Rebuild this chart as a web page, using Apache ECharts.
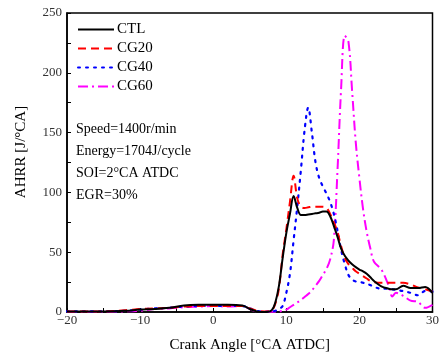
<!DOCTYPE html>
<html>
<head>
<meta charset="utf-8">
<script src="https://cdn.jsdelivr.net/npm/echarts@6/dist/echarts.min.js"></script>
<style>html,body{margin:0;padding:0;background:#fff}#c{width:442px;height:358px}</style>
</head>
<body>
<div id="c"></div>
<script>
var angle = [-20,-15,-12,-10,-8,-6,-4,-2,0,2,4,5,6,7,8,8.5,9,9.5,10,10.5,11,11.5,12,12.5,13,13.5,14,14.5,15,15.5,16,16.5,17,17.5,18,18.5,19,19.5,20,20.5,21,21.5,22,23,24,24.5,25,26,27,28,29,30];
var ctl  = [0.5,0.5,1,2,2.5,3.5,5.5,6,6,6,5.5,2.5,0.5,0,1.5,8,22,45,66,82,97,87,81,81,81.5,82,82.5,83,84,84,80,72,63,53,47,43,40,37.5,35.5,34,32,29,26,21.5,19.5,19,19,22,20,20,21,16];
var cg20 = [0.5,0.5,1.5,2.5,3,3.5,4.5,5,5,5,5,3,1,0.5,1.5,7,20,48,69,92,114,95,88,87,87.5,88,88,88,88,87,82,75,67,55,45,40,37,34,32,30,28,26,25,24.5,24.5,24.5,24.5,24.5,23,20.5,19,17];
var cg40 = [0.5,0.5,1,2,3,3.5,4.5,5,5,5,5,3,1,0.3,0.5,1,2.5,5,16,32,60,88,119,152,171,150,125,112,105,99,92,82,68,52,40,31,27,25.5,25,24.5,23.5,22.5,21,19.5,19.5,19,18.5,17.5,16,14,17.5,17];
var cg60 = [0.3,0.3,0.5,1,2.5,3,4,4.5,5,4.5,5,2.5,0.5,0.3,0.3,0.3,0.5,1,2,4,6,8,10,12.5,15,18,22,26,31,36,44,60,118,187,231,226,185,142,112,86,67,53,42,35.5,22,13,16,13.5,9.5,8.5,3.5,6];
var seriesNames = ['CTL','CG20','CG40','CG60'];
var xTicks = {min:-20, max:30, interval:10};
var yTicks = {min:0, max:250, interval:50};
var notes = ['Speed=1400r/min','Energy=1704J/cycle','SOI=2°CA ATDC','EGR=30%'];

function pairs(v){ return angle.map(function(a,i){ return [a, v[i]]; }); }
var serif = 'Liberation Serif, Times New Roman, serif';
var styles = [
  {color:'#000000', type:'solid', width:2},
  {color:'#ff0000', type:[8,5], width:2},
  {color:'#0000ff', type:[2,6], width:2.2, cap:'round'},
  {color:'#ff00ff', type:[10,4,2,4], width:2}
];
var data = [ctl, cg20, cg40, cg60];
var chart = echarts.init(document.getElementById('c'), null, {renderer:'canvas'});
chart.setOption({
  animation:false,
  backgroundColor:'#fff',
  grid:{left:67, right:3, top:13, bottom:45, show:true, borderColor:'#000', borderWidth:1.5, backgroundColor:'transparent'},
  legend:{
    orient:'vertical', left:72, top:17, itemWidth:36, itemHeight:14, itemGap:4,
    itemStyle:{opacity:0},
    textStyle:{fontFamily:serif, fontSize:15, color:'#000', padding:[0,0,0,-2]},
    data: seriesNames
  },
  xAxis:{
    type:'value', min:xTicks.min, max:xTicks.max, interval:xTicks.interval,
    name:'Crank Angle [°CA ATDC]', nameLocation:'middle', nameGap:26,
    nameTextStyle:{fontFamily:serif, fontSize:15, color:'#000'},
    axisLine:{onZero:false, lineStyle:{color:'#000', width:1.5}},
    axisTick:{inside:true, length:4, lineStyle:{color:'#000', width:1}},
    minorTick:{show:true, splitNumber:2, length:4, lineStyle:{color:'#000', width:1}},
    axisLabel:{margin:2, fontFamily:serif, fontSize:13, color:'#333',
      formatter:function(v){ return String(v).replace('-', '\u2212'); }},
    splitLine:{show:false}
  },
  yAxis:{
    type:'value', min:yTicks.min, max:yTicks.max, interval:yTicks.interval,
    name:'AHRR [J/°CA]', nameLocation:'middle', nameGap:38,
    nameTextStyle:{fontFamily:serif, fontSize:15, color:'#000', padding:[0,0,0,21]},
    axisLine:{onZero:false, lineStyle:{color:'#000', width:1.5}},
    axisTick:{inside:true, length:4, lineStyle:{color:'#000', width:1}},
    minorTick:{show:true, splitNumber:2, length:4, lineStyle:{color:'#000', width:1}},
    axisLabel:{margin:5, fontFamily:serif, fontSize:13, color:'#333'},
    splitLine:{show:false}
  },
  graphic: notes.map(function(t, i){
    return {type:'text', left:76, top:122 + i*22, style:{text:t, fontFamily:serif, fontSize:14, fill:'#000'}};
  }),
  series: seriesNames.map(function(n, i){
    return {
      name:n, type:'line', data:pairs(data[i]), symbol:'none', smooth:0.35,
      lineStyle:styles[i], itemStyle:{color:styles[i].color}, z: 10 - i
    };
  })
});
</script>
</body>
</html>
